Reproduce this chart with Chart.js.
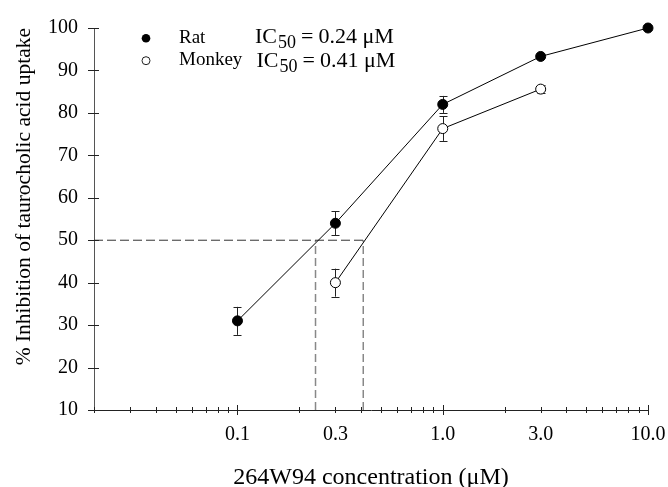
<!DOCTYPE html>
<html>
<head>
<meta charset="utf-8">
<script src="https://cdn.jsdelivr.net/npm/chart.js@4"></script>
<style>
  html, body { margin: 0; padding: 0; background: #fff; }
</style>
</head>
<body>
<canvas id="chart" width="668" height="487"></canvas>
<script>
"use strict";
// data
const ratConc = [0.1, 0.3, 1.0, 3.0, 10.0];
const ratValues = [31, 54, 82, 93.3, 100];
const ratErrors = [3.3, 2.8, 2.0, 0, 0];
const monkeyConc = [0.3, 1.0, 3.0];
const monkeyValues = [40, 76.3, 85.6];
const monkeyErrors = [3.3, 2.9, 1.0];
const ic50Rat = 0.24;
const ic50Monkey = 0.41;
const halfLevel = 50;
const xLabelValues = [0.1, 0.3, 1, 3, 10];
const xLabelTexts = ["0.1", "0.3", "1.0", "3.0", "10.0"];
const xMin = 0.02, xMax = 10;
const yMin = 10, yMax = 100, yStep = 10;

const serif = '"Liberation Serif", "Times New Roman", serif';

// minor/major tick positions on the log axis
const xTickValues = [];
[0.01, 0.1, 1].forEach(dec => {
  for (let m = 1; m <= 9; m++) {
    const v = +(dec * m).toPrecision(3);
    if (v >= xMin) xTickValues.push(v);
  }
});
xTickValues.push(xMax);

const pts = (xs, ys) => xs.map((x, i) => ({x: x, y: ys[i]}));

const errorBars = {
  id: "errorBars",
  beforeDatasetsDraw(chart) {
    const {ctx, scales: {x, y}} = chart;
    ctx.save();
    ctx.strokeStyle = "#222";
    ctx.lineWidth = 1;
    [[ratConc, ratValues, ratErrors], [monkeyConc, monkeyValues, monkeyErrors]].forEach(([xs, ys, es]) => {
      xs.forEach((xv, i) => {
        if (!es[i]) return;
        const px = Math.round(x.getPixelForValue(xv)) + 0.5;
        const top = y.getPixelForValue(ys[i] + es[i]);
        const bot = y.getPixelForValue(ys[i] - es[i]);
        ctx.beginPath();
        ctx.moveTo(px, top); ctx.lineTo(px, bot);
        ctx.moveTo(px - 4, Math.round(top) + 0.5); ctx.lineTo(px + 4, Math.round(top) + 0.5);
        ctx.moveTo(px - 4, Math.round(bot) + 0.5); ctx.lineTo(px + 4, Math.round(bot) + 0.5);
        ctx.stroke();
      });
    });
    ctx.restore();
  }
};

const axisTicks = {
  id: "axisTicks",
  afterDraw(chart) {
    const {ctx, scales: {x, y}, chartArea: a} = chart;
    ctx.save();
    ctx.strokeStyle = "#222";
    ctx.lineWidth = 1;
    ctx.beginPath();
    x.ticks.forEach(t => {
      const px = Math.round(x.getPixelForValue(t.value)) + 0.5;
      const major = [0.1, 1, 10].includes(t.value);
      const len = major ? 5 : 3;
      ctx.moveTo(px, a.bottom - len); ctx.lineTo(px, a.bottom + len);
    });
    y.ticks.forEach(t => {
      const py = Math.round(y.getPixelForValue(t.value)) + 0.5;
      ctx.moveTo(a.left - 6, py); ctx.lineTo(a.left + 5, py);
    });
    ctx.stroke();

    // legend
    ctx.fillStyle = "#000";
    ctx.beginPath(); ctx.arc(146, 38.3, 4.3, 0, Math.PI * 2); ctx.fill();
    ctx.fillStyle = "#fff";
    ctx.beginPath(); ctx.arc(146, 60.7, 4, 0, Math.PI * 2); ctx.fill(); ctx.stroke();
    ctx.fillStyle = "#000";
    ctx.textBaseline = "alphabetic";
    ctx.textAlign = "left";
    ctx.font = "19px " + serif;
    ctx.fillText("Rat", 179, 43.3);
    ctx.fillText("Monkey", 179, 65);
    const ic = (x0, base, val) => {
      let cx = x0;
      ctx.font = "22px " + serif;
      ctx.fillText("IC", cx, base);
      cx += ctx.measureText("IC").width + 1;
      ctx.font = "18px " + serif;
      ctx.fillText("50", cx, base + 5);
      cx += ctx.measureText("50").width + 5;
      ctx.font = "22px " + serif;
      ctx.fillText("=", cx, base);
      cx += ctx.measureText("=").width + 5;
      ctx.fillText(val + " \u03BCM", cx, base);
    };
    ic(255, 43.3, "0.24");
    ic(256.5, 66.5, "0.41");
    ctx.restore();
  }
};

new Chart(document.getElementById("chart"), {
  type: "scatter",
  data: {
    datasets: [
      {
        label: "Rat",
        data: pts(ratConc, ratValues),
        showLine: true,
        borderColor: "#000",
        borderWidth: 1,
        pointRadius: 5,
        pointBorderWidth: 1,
        pointBorderColor: "#000",
        pointBackgroundColor: "#000",
        clip: false,
        order: 1
      },
      {
        label: "Monkey",
        data: pts(monkeyConc, monkeyValues),
        showLine: true,
        borderColor: "#000",
        borderWidth: 1,
        pointRadius: 5,
        pointBorderWidth: 1,
        pointBorderColor: "#000",
        pointBackgroundColor: "#fff",
        clip: false,
        order: 1
      },
      {
        label: "50%",
        data: [{x: xMin, y: halfLevel}, {x: ic50Monkey, y: halfLevel}],
        showLine: true,
        borderColor: "#333",
        borderWidth: 1,
        borderDash: [9, 4],
        pointRadius: 0,
        order: 3
      },
      {
        label: "IC50 rat",
        data: [{x: ic50Rat, y: yMin}, {x: ic50Rat, y: halfLevel}],
        showLine: true,
        borderColor: "#888",
        borderWidth: 1.5,
        borderDash: [8, 4],
        pointRadius: 0,
        order: 3
      },
      {
        label: "IC50 monkey",
        data: [{x: ic50Monkey, y: yMin}, {x: ic50Monkey, y: halfLevel}],
        showLine: true,
        borderColor: "#888",
        borderWidth: 1.5,
        borderDash: [8, 4],
        pointRadius: 0,
        order: 3
      }
    ]
  },
  options: {
    responsive: false,
    animation: false,
    events: [],
    layout: {padding: {top: 23, right: 20, bottom: 0, left: 0}},
    plugins: {legend: {display: false}, tooltip: {enabled: false}},
    scales: {
      x: {
        type: "logarithmic",
        min: xMin,
        max: xMax,
        afterBuildTicks: s => { s.ticks = xTickValues.map(v => ({value: v})); },
        afterFit: s => { s.height = 77; s.paddingLeft = 0; s.paddingRight = 0; },
        grid: {display: false, drawTicks: false},
        border: {display: true, color: "#222", width: 1},
        ticks: {
          autoSkip: false,
          maxRotation: 0,
          minRotation: 0,
          padding: 13,
          color: "#000",
          font: {family: serif, size: 20},
          callback: v => {
            const i = xLabelValues.findIndex(l => Math.abs(l - v) < 1e-9);
            return i >= 0 ? xLabelTexts[i] : "";
          }
        },
        title: {
          display: true,
          text: "264W94 concentration (\u03BCM)",
          color: "#000",
          font: {family: serif, size: 24, lineHeight: 0.8},
          padding: {top: 0, bottom: 0}
        }
      },
      y: {
        min: yMin,
        max: yMax,
        afterFit: s => { s.width = 94; },
        grid: {display: false, drawTicks: false},
        border: {display: true, color: "#555", width: 1},
        ticks: {
          stepSize: yStep,
          padding: 16,
          color: "#000",
          font: {family: serif, size: 20}
        },
        title: {
          display: true,
          align: "end",
          text: "% Inhibition of taurocholic acid uptake",
          color: "#000",
          font: {family: serif, size: 21.5, lineHeight: 1},
          padding: {top: 14, bottom: 0}
        }
      }
    }
  },
  plugins: [errorBars, axisTicks]
});
</script>
</body>
</html>
